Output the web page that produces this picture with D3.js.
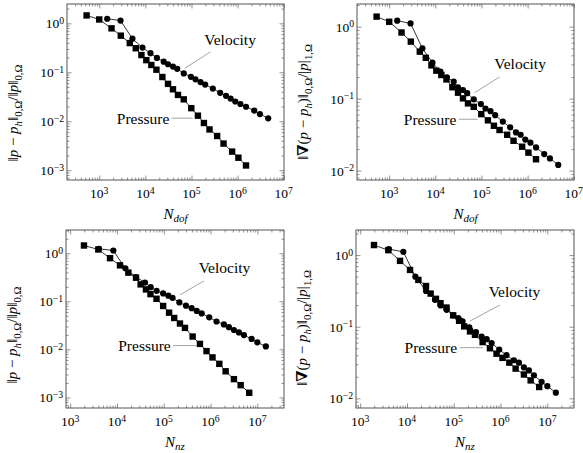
<!DOCTYPE html>
<html>
<head>
<meta charset="utf-8">
<script src="https://cdn.jsdelivr.net/npm/d3@7"></script>
<style>
  body { margin: 0; background: #fff; }
  svg, svg text, svg tspan { font-family: "Liberation Serif", "DejaVu Serif", "Times New Roman", serif !important; }
  text { fill: #000; }
</style>
</head>
<body>
<svg id="chart" width="583" height="453" font-family="Liberation Serif, DejaVu Serif, serif"></svg>
<script>
// degrees of freedom / non-zeros for each refinement level
const ndofP = [533, 1000, 1850, 2940, 4600, 6200, 8230, 10500, 13500, 17400, 23400, 31000, 39700, 51000, 68000, 99000, 138000, 186000, 246000, 360000, 495000, 760000, 1040000, 1520000];
const ndofV = [1490, 2900, 5250, 8650, 12900, 17800, 25000, 31000, 39700, 49000, 68000, 97000, 122000, 157000, 198000, 290000, 418000, 560000, 705000, 890000, 1150000, 1520000, 2290000, 3040000, 4600000];
const nnzP = [1970, 3990, 7100, 11600, 17500, 25500, 32000, 41600, 52000, 70000, 97000, 130000, 167000, 222000, 284000, 414000, 593000, 820000, 1100000, 1540000, 2100000, 3160000, 4400000, 6700000];
const nnzV = [4100, 8350, 15100, 25500, 39600, 52500, 70300, 97000, 125000, 154000, 215000, 298000, 394000, 506000, 645000, 937000, 1340000, 1930000, 2470000, 3160000, 4040000, 5170000, 7540000, 10000000, 15200000];

// relative errors
const errL2P = [1.45, 1.2, 0.79, 0.56, 0.395, 0.31, 0.225, 0.177, 0.141, 0.113, 0.08, 0.058, 0.045, 0.0345, 0.028, 0.0185, 0.013, 0.0092, 0.0068, 0.005, 0.0035, 0.0024, 0.0018, 0.00125];
const errL2V = [1.24, 1.14, 0.485, 0.32, 0.246, 0.197, 0.165, 0.146, 0.131, 0.118, 0.095, 0.081, 0.072, 0.063, 0.056, 0.0465, 0.038, 0.033, 0.029, 0.0253, 0.0225, 0.0198, 0.0165, 0.014, 0.0115];
const errH1P = [1.38, 1.17, 0.83, 0.62, 0.45, 0.37, 0.29, 0.245, 0.213, 0.185, 0.144, 0.121, 0.101, 0.086, 0.077, 0.061, 0.050, 0.042, 0.0367, 0.0315, 0.026, 0.0215, 0.0178, 0.0144];
const errH1V = [1.21, 1.11, 0.50, 0.316, 0.237, 0.198, 0.172, 0.144, 0.132, 0.119, 0.098, 0.084, 0.073, 0.067, 0.059, 0.048, 0.040, 0.034, 0.0315, 0.027, 0.0245, 0.021, 0.017, 0.0148, 0.012];

const seriesNames = ['Pressure', 'Velocity'];

const svg = d3.select('#chart');

// y label pieces: [text, italic, subscript, bold]
const labelL2 = [['‖'], ['p', 1], [' − '], ['p', 1], ['h', 1, 1], ['‖'], ['0,Ω', 0, 1], ['/‖'], ['p', 1], ['‖'], ['0,Ω', 0, 1]];
const labelH1 = [['‖'], ['∇', 0, 0, 1], ['('], ['p', 1], [' − '], ['p', 1], ['h', 1, 1], [')‖'], ['0,Ω', 0, 1], ['/|'], ['p', 1], ['|'], ['1,Ω', 0, 1]];

const panels = [
  { left: 67, top: 4, w: 217, h: 176, xl: [2.302, 7.005], yl: [-3.20, 0.395],
    xs: [ndofP, ndofV], ys: [errL2P, errL2V], sub: 'dof', ylab: labelL2, ylabY: 113,
    pins: [{ x: 105700, y: 0.01157, bx: -21, by: 0, tx: -49.5, ty: 0 },
           { x: 70800, y: 0.12, bx: 26, by: -16.6, tx: 45.5, ty: -29 }] },
  { left: 357, top: 4, w: 217, h: 176, xl: [2.302, 7.005], yl: [-2.13, 0.315],
    xs: [ndofP, ndofV], ys: [errH1P, errH1V], sub: 'dof', ylab: labelH1, ylabY: 102,
    pins: [{ x: 82400, y: 0.0518, bx: -18.7, by: 0, tx: -47.5, ty: 0 },
           { x: 70800, y: 0.121, bx: 25, by: -15.7, tx: 45.5, ty: -28.7 }] },
  { left: 66, top: 230, w: 218, h: 178, xl: [2.91, 7.57], yl: [-3.22, 0.484],
    xs: [nnzP, nnzV], ys: [errL2P, errL2V], sub: 'nz', ylab: labelL2, ylabY: 335,
    pins: [{ x: 513000, y: 0.012, bx: -24, by: 0, tx: -52.5, ty: 0 },
           { x: 222000, y: 0.136, bx: 24, by: -14, tx: 44.5, ty: -27.3 }] },
  { left: 356, top: 230, w: 218, h: 178, xl: [2.91, 7.57], yl: [-2.135, 0.35],
    xs: [nnzP, nnzV], ys: [errH1P, errH1V], sub: 'nz', ylab: labelH1, ylabY: 328,
    pins: [{ x: 417000, y: 0.051, bx: -23, by: 0, tx: -52, ty: 0 },
           { x: 222000, y: 0.12, bx: 30, by: -16, tx: 44.5, ty: -29.3 }] }
];

function logTicks(l0, l1) {
  let major = [], minor = [];
  for (let k = Math.floor(l0); k <= Math.ceil(l1); k++) {
    for (let m = 1; m < 10; m++) {
      let v = m * Math.pow(10, k), lv = Math.log10(v);
      if (lv < l0 - 1e-9 || lv > l1 + 1e-9) continue;
      if (m == 1) major.push(v); else minor.push(v);
    }
  }
  return { major, minor };
}

function powLabel(sel) {
  sel.each(function(d) {
    let e = Math.round(Math.log10(d));
    let t = d3.select(this).text(null);
    t.append('tspan').text('10');
    t.append('tspan').attr('dy', '-0.45em').attr('font-size', '0.72em')
      .text(e < 0 ? '−' + (-e) : e);
  });
}

function mathText(t, parts, size) {
  let shifted = false;
  parts.forEach(p => {
    let ts = t.append('tspan').text(p[0]);
    if (p[1]) ts.attr('font-style', 'italic');
    if (p[3]) ts.attr('font-weight', 'bold');
    if (p[2]) {
      ts.attr('font-size', size * 0.72).attr('dy', shifted ? 0 : size * 0.28);
      shifted = true;
    } else if (shifted) {
      ts.attr('dy', -size * 0.28);
      shifted = false;
    }
  });
}

panels.forEach(p => {
  let x = d3.scaleLog().domain([Math.pow(10, p.xl[0]), Math.pow(10, p.xl[1])]).range([0, p.w]);
  let y = d3.scaleLog().domain([Math.pow(10, p.yl[0]), Math.pow(10, p.yl[1])]).range([p.h, 0]);
  let g = svg.append('g').attr('transform', `translate(${p.left},${p.top})`);

  let xt = logTicks(p.xl[0], p.xl[1]), yt = logTicks(p.yl[0], p.yl[1]);

  // minor + major ticks on all four sides, pointing inward
  [[d3.axisBottom, x, `translate(0,${p.h})`, xt], [d3.axisTop, x, null, xt],
   [d3.axisLeft, y, null, yt], [d3.axisRight, y, `translate(${p.w},0)`, yt]].forEach(a => {
    let mk = a[0](a[1]).tickValues(a[3].minor).tickSize(-2.5).tickFormat('');
    let mj = a[0](a[1]).tickValues(a[3].major).tickSize(-4.5).tickFormat('');
    [mk, mj].forEach(ax => {
      let ag = g.append('g').call(ax);
      if (a[2]) ag.attr('transform', a[2]);
      ag.select('.domain').remove();
      ag.selectAll('line').attr('stroke', '#777').attr('stroke-width', 0.8);
      ag.attr('font-family', null);
    });
  });

  // tick labels
  g.append('g').selectAll('text').data(xt.major).join('text')
    .attr('x', d => x(d)).attr('y', p.h + 18)
    .attr('text-anchor', 'middle').attr('font-size', 13.5)
    .call(powLabel);
  g.append('g').selectAll('text').data(yt.major).join('text')
    .attr('x', -3).attr('y', d => y(d)).attr('dy', '0.36em')
    .attr('text-anchor', 'end').attr('font-size', 13.5)
    .call(powLabel);

  // frame
  g.append('rect').attr('width', p.w).attr('height', p.h)
    .attr('fill', 'none').attr('stroke', '#555').attr('stroke-width', 1);

  // series
  let line = d3.line().x(d => x(d[0])).y(d => y(d[1]));
  seriesNames.forEach((name, si) => {
    let pts = p.xs[si].map((v, i) => [v, p.ys[si][i]]);
    g.append('path').datum(pts).attr('d', line)
      .attr('fill', 'none').attr('stroke', '#000').attr('stroke-width', 0.8);
    if (name == 'Pressure') {
      g.append('g').selectAll('rect').data(pts).join('rect')
        .attr('x', d => x(d[0]) - 3.2).attr('y', d => y(d[1]) - 3.2)
        .attr('width', 6.4).attr('height', 6.4).attr('fill', '#000');
    } else {
      g.append('g').selectAll('circle').data(pts).join('circle')
        .attr('cx', d => x(d[0])).attr('cy', d => y(d[1])).attr('r', 3.1).attr('fill', '#000');
    }
  });

  // pins
  p.pins.forEach((pin, si) => {
    let ax = x(pin.x), ay = y(pin.y);
    g.append('line').attr('x1', ax).attr('y1', ay)
      .attr('x2', ax + pin.bx).attr('y2', ay + pin.by)
      .attr('stroke', '#999').attr('stroke-width', 0.9);
    g.append('text').attr('x', ax + pin.tx).attr('y', ay + pin.ty).attr('dy', '0.35em')
      .attr('text-anchor', 'middle').attr('font-size', 15.5).text(seriesNames[si]);
  });

  // x title
  let xtitle = g.append('text').attr('x', p.w / 2).attr('y', p.h + 39)
    .attr('text-anchor', 'middle').attr('font-size', 15);
  xtitle.append('tspan').attr('font-style', 'italic').text('N');
  xtitle.append('tspan').attr('font-style', 'italic').attr('font-size', 11).attr('dy', 3).text(p.sub);

  // y title
  let ytitle = svg.append('text')
    .attr('transform', `translate(${p.left - 49},${p.ylabY}) rotate(-90)`)
    .attr('text-anchor', 'middle').attr('font-size', 15);
  mathText(ytitle, p.ylab, 15);
});
</script>
</body>
</html>
